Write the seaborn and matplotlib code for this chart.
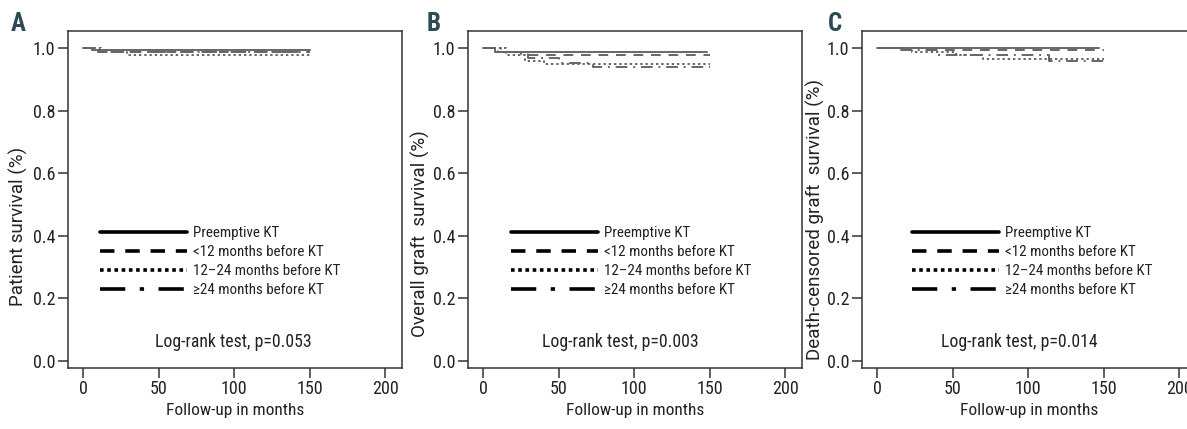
import matplotlib
matplotlib.use("Agg")
import matplotlib.pyplot as plt
from matplotlib.lines import Line2D
from matplotlib import font_manager
import pandas as pd
import seaborn as sns

groups = ["Preemptive KT", "<12 months before KT", "12–24 months before KT", "≥24 months before KT"]

# Kaplan-Meier step points (months, survival)
patient_t = [[0, 6, 150], [0, 10, 150], [0, 12, 29, 150], [0, 8, 20, 150]]
patient_s = [[1.0, 0.995, 0.995], [1.0, 0.99, 0.99], [1.0, 0.99, 0.98, 0.98], [1.0, 0.995, 0.99, 0.99]]

graft_t = [[0, 8, 148], [0, 10, 25, 150], [0, 15, 28, 40, 150], [0, 12, 30, 50, 73, 150]]
graft_s = [[1.0, 0.99, 0.99], [1.0, 0.99, 0.98, 0.98], [1.0, 0.98, 0.96, 0.95, 0.95],
           [1.0, 0.99, 0.97, 0.955, 0.94, 0.94]]

dcgs_t = [[0, 147], [0, 30, 150], [0, 23, 52, 70, 150], [0, 15, 40, 114, 150]]
dcgs_s = [[1.0, 1.0], [1.0, 0.995, 0.995], [1.0, 0.99, 0.98, 0.965, 0.965],
          [1.0, 0.995, 0.98, 0.96, 0.96]]

panel_letters = ["A", "B", "C"]
ylabels = ["Patient survival (%)", "Overall graft  survival (%)", "Death-censored graft  survival (%)"]
pvalues = ["Log-rank test, p=0.053", "Log-rank test, p=0.003", "Log-rank test, p=0.014"]
xticks = [0, 50, 100, 150, 200]
yticks = [0.0, 0.2, 0.4, 0.6, 0.8, 1.0]

sns.set_style("white")
# narrow font if one is there, otherwise condensed DejaVu
names = {f.name for f in font_manager.fontManager.ttflist}
narrow = [n for n in ["Liberation Sans Narrow", "Roboto Condensed", "Open Sans Condensed"] if n in names]
plt.rcParams['font.family'] = narrow[:1] + ['DejaVu Sans']
plt.rcParams['font.stretch'] = 'condensed'

curve_dashes = {groups[0]: "", groups[1]: (5, 4), groups[2]: (1.2, 1.5), groups[3]: (6, 3, 1, 3)}
legend_dashes = [None, (4, 3), (1, 1), (7, 4, 1.2, 4)]


def make_frame(times, survs):
    rows = []
    for g, tt, ss in zip(groups, times, survs):
        for t, s in zip(tt, ss):
            rows.append({"month": t, "surv": s, "group": g})
    return pd.DataFrame(rows)


fig = plt.figure(figsize=(11.87, 4.29), dpi=100)
lefts = [68, 468, 862]
panels = [(patient_t, patient_s), (graft_t, graft_s), (dcgs_t, dcgs_s)]
legend_x = [0.097, 0.13, 0.15]
text_x = [0.494, 0.455, 0.47]
label_x = [11, 427, 828]
ylabel_x = [28, 430, 825]
ylabel_y = [0.42, 0.40, 0.44]

for i, (tt, ss) in enumerate(panels):
    ax = fig.add_axes([lefts[i] / 1187, 1 - 368 / 429, 334 / 1187, 337 / 429])
    df = make_frame(tt, ss)
    sns.lineplot(data=df, x="month", y="surv", style="group", dashes=curve_dashes,
                 color="#666666", linewidth=1.4, drawstyle="steps-post",
                 estimator=None, legend=False, ax=ax)
    ax.set_xlim(-10, 211)
    ax.set_ylim(-0.023, 1.056)
    ax.set_xticks(xticks)
    ax.set_yticks(yticks)
    ax.set_yticklabels([f"{v:.1f}" for v in yticks])
    ax.tick_params(direction="out", length=7, width=1.1, color="#333333",
                   labelsize=13, pad=2, left=True, bottom=True, labelcolor="#222222")
    for sp in ax.spines.values():
        sp.set_color("#333333")
        sp.set_linewidth(1.1)
    ax.set_xlabel("Follow-up in months", fontsize=12.5, labelpad=3, color="#222222")
    ax.set_ylabel(ylabels[i], fontsize=13.5, color="#222222",
                  family=["Roboto", "DejaVu Sans"], stretch="normal")
    ax.yaxis.set_label_coords((ylabel_x[i] - lefts[i]) / 334, ylabel_y[i])

    handles = []
    for d in legend_dashes:
        h = Line2D([0], [0], color="black", linewidth=2.6)
        if d is not None:
            h.set_dashes(d)
        handles.append(h)
    ax.legend(handles, groups, loc="upper left", bbox_to_anchor=(legend_x[i], 0.42),
              frameon=False, fontsize=10.8, handlelength=5.8, handletextpad=0.4,
              labelspacing=0.32, borderpad=0, borderaxespad=0, labelcolor="#222222")
    ax.text(text_x[i], 0.078, pvalues[i], transform=ax.transAxes, ha="center", va="center",
            fontsize=12.8, color="#222222")
    fig.text(label_x[i] / 1187, 1 - 12 / 429, panel_letters[i], fontsize=18, fontweight="bold",
             color="#2d4a55", va="top", ha="left")

fig.savefig("out.png", dpi=100)
